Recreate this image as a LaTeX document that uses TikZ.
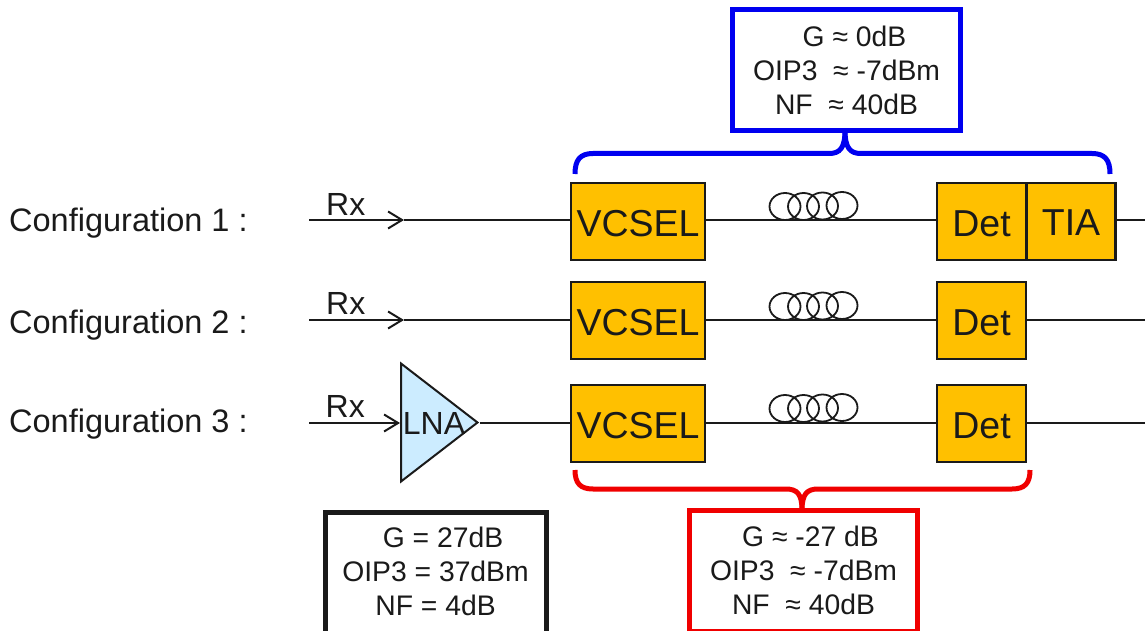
\documentclass[tikz,border=0pt]{standalone}
\usepackage{fontspec}
\setmainfont{Liberation Sans}
\usetikzlibrary{arrows.meta,shapes.geometric}
\definecolor{ink}{HTML}{1A1A1A}
\definecolor{blockfill}{HTML}{FFC000}
\definecolor{lnafill}{HTML}{CCECFF}
\definecolor{bblue}{HTML}{0000F0}
\definecolor{bred}{HTML}{F00000}
\tikzset{
  block/.style={draw=ink,line width=2.1pt,fill=blockfill,text=ink,inner sep=0pt,minimum height=77pt,
    font=\fontsize{37.5}{37.5}\selectfont,text height=30pt,text depth=0pt},
  wire/.style={draw=ink,line width=2pt},
  rxarrow/.style={wire,-{Straight Barb[length=14pt,width=17pt,line width=2pt]}},
  coil/.style={draw=ink,line width=1.8pt},
  cfg/.style={anchor=base west,text=ink,inner sep=0pt,font=\fontsize{32.5}{32.5}\selectfont},
  rxl/.style={anchor=base west,text=ink,inner sep=0pt,font=\fontsize{32}{32}\selectfont},
  specbox/.style={line width=5pt,fill=white,text=ink,inner sep=0pt,align=center,
    font=\fontsize{28.3}{34}\selectfont},
  brace/.style={line width=5pt,line cap=butt}
}
\begin{document}
\begin{tikzpicture}[x=1pt,y=-1pt]
\useasboundingbox (0,0) rectangle (1145,631);
\clip (0,0) rectangle (1145,631);
% labels
\node[cfg] (c1) at (9,231) {Configuration 1 :};
\node[cfg] (c2) at (9,333) {Configuration 2 :};
\node[cfg] (c3) at (9,432) {Configuration 3 :};
% row 1
\node[block,minimum width=134pt] (v1) at (638,221.5) {VCSEL};
\node[block,minimum width=89pt] (d1) at (981.5,221.5) {Det};
\node[block,minimum width=89pt,text height=27pt] (t1) at (1071,221.5) {TIA};
\coordinate (in1) at (309,220);
\coordinate (a1) at (404,220);
\coordinate (o1) at (1145,220);
\draw[rxarrow] (in1) -- (a1);
\draw[wire] (a1) -- (v1.west |- a1);
\draw[wire] (v1.east |- a1) -- (d1.west |- a1);
\draw[wire] (t1.east |- o1) -- (o1);
% row 2
\node[block,minimum width=134pt] (v2) at (638,320.5) {VCSEL};
\node[block,minimum width=89pt] (d2) at (981.5,320.5) {Det};
\coordinate (in2) at (309,320);
\coordinate (a2) at (404,320);
\coordinate (o2) at (1145,320);
\draw[rxarrow] (in2) -- (a2);
\draw[wire] (a2) -- (v2.west |- a2);
\draw[wire] (v2.east |- a2) -- (d2.west |- a2);
\draw[wire] (d2.east |- o2) -- (o2);
% row 3
\node[block,minimum width=134pt] (v3) at (638,423.5) {VCSEL};
\node[block,minimum width=89pt] (d3) at (981.5,423.5) {Det};
\node[isosceles triangle,isosceles triangle stretches,shape border rotate=0,draw=ink,line width=2pt,fill=lnafill,
  minimum height=76.5pt,minimum width=118pt,inner sep=0pt,anchor=lower side] (lna) at (400,422.5) {};
\node[text=ink,inner sep=0pt,anchor=base,font=\fontsize{32}{32}\selectfont] (lnat) at (434,434) {LNA};
\coordinate (in3) at (309,423);
\coordinate (o3) at (1145,423);
\draw[rxarrow] (in3) -- (lna.lower side |- in3);
\draw[wire] (lna.apex) -- (v3.west |- lna.apex);
\draw[wire] (v3.east |- in3) -- (d3.west |- in3);
\draw[wire] (d3.east |- o3) -- (o3);
% Rx
\node[rxl] (r1) at (326,215) {Rx};
\node[rxl] (r2) at (326,314) {Rx};
\node[rxl] (r3) at (325.5,417) {Rx};
% coils
\foreach \yc/\n in {206/1,306/2,408/3}{
  \foreach \xc/\dy in {785/0.5,803.5/0.5,822.5/0,842/-0.5}{
    \draw[coil] (\xc,\yc+\dy) ellipse (15.5pt and 13.5pt);
  }
}
% spec boxes
\node[specbox,draw=bblue,minimum width=227.5pt,minimum height=120.5pt] (bb) at (846.5,70.2)
  {\hspace*{16pt}G ≈ 0dB\\OIP3\ \ ≈ -7dBm\\NF\ \ ≈ 40dB};
\node[specbox,draw=ink,minimum width=221pt,minimum height=121pt] (kb) at (435.5,573)
  {\hspace*{15pt}G = 27dB\\OIP3 = 37dBm\\NF = 4dB\\[-30pt]};
\node[specbox,draw=bred,minimum width=228pt,minimum height=121pt] (rb) at (803.5,570.5)
  {\hspace*{14pt}G ≈ -27 dB\\OIP3\ \ ≈ -7dBm\\NF\ \ ≈ 40dB};
% braces
\coordinate (bl) at (575,174);
\coordinate (br) at (1110,174);
\draw[brace,draw=bblue] (bl) .. controls (575,160) and (580,153.5) .. (593,153.5) -- (829,153.5)
  .. controls (840,153.5) and (845,148) .. (845,130);
\draw[brace,draw=bblue] (br) .. controls (1110,160) and (1105,153.5) .. (1092,153.5) -- (861,153.5)
  .. controls (850,153.5) and (845,148) .. (845,130);
\coordinate (rl) at (575,470);
\coordinate (rr) at (1030,470);
\draw[brace,draw=bred] (rl) .. controls (575,483) and (580,489) .. (593,489) -- (786,489)
  .. controls (797,489) and (802,494) .. (802,510);
\draw[brace,draw=bred] (rr) .. controls (1030,483) and (1025,489) .. (1012,489) -- (818,489)
  .. controls (807,489) and (802,494) .. (802,510);
\end{tikzpicture}
\end{document}
